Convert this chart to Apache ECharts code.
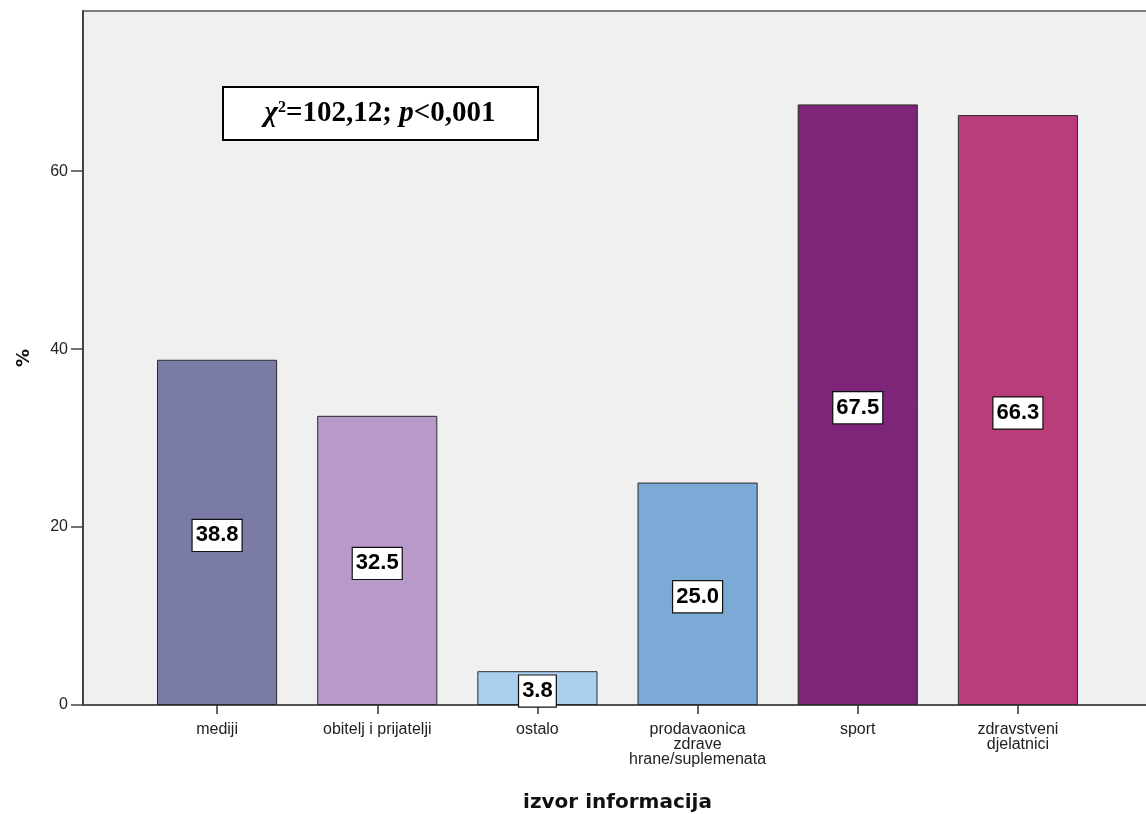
<!DOCTYPE html>
<html>
<head>
<meta charset="utf-8">
<script src="https://cdn.jsdelivr.net/npm/echarts@6/dist/echarts.min.js"></script>
<style>
html,body{margin:0;padding:0;background:#fff;}
#chart{width:1146px;height:814px;}
</style>
</head>
<body>
<div id="chart"></div>
<script>
const categories = ['mediji', 'obitelj i prijatelji', 'ostalo', 'prodavaonica\nzdrave\nhrane/suplemenata', 'sport', 'zdravstveni\ndjelatnici'];
const values = [38.8, 32.5, 3.8, 25.0, 67.5, 66.3];
const colors = ['#7b7ba8', '#b89aca', '#abd0ef', '#7baad7', '#7c2579', '#ba3d7b'];
const yTicks = [0, 20, 40, 60];

const chart = echarts.init(document.getElementById('chart'), null, {renderer: 'canvas'});
const option = {
  animation: false,
  backgroundColor: '#ffffff',
  grid: [
    {left: 83, top: 11, right: -6, bottom: 109, outerBoundsMode: 'none', containLabel: false, show: true, backgroundColor: '#f0f0f0', borderColor: '#555', borderWidth: 1.5},
    {left: 137, top: 11, right: 48, bottom: 109, outerBoundsMode: 'none', containLabel: false}
  ],
  xAxis: [
    {gridIndex: 0, type: 'value', min: 0, max: 1,
      axisLine: {show: true, lineStyle: {color: '#444', width: 1.5}},
      axisTick: {show: false}, axisLabel: {show: false}, splitLine: {show: false}},
    {gridIndex: 1, type: 'category', data: categories,
      axisLine: {show: false},
      axisTick: {show: true, alignWithLabel: true, length: 9, lineStyle: {color: '#333', width: 1.5}},
      axisLabel: {fontFamily: 'Liberation Sans', fontSize: 16, color: '#222', lineHeight: 15, margin: 17, interval: 0},
      name: 'izvor informacija', nameLocation: 'middle', nameGap: 88,
      nameTextStyle: {fontFamily: 'DejaVu Sans', fontSize: 20, fontWeight: 'bold', color: '#111'}}
  ],
  yAxis: [
    {gridIndex: 0, type: 'value', min: 0, max: 78, interval: 20,
      axisLine: {show: true, lineStyle: {color: '#444', width: 2}},
      axisTick: {show: true, length: 12, customValues: yTicks, lineStyle: {color: '#444', width: 1.5}},
      axisLabel: {fontFamily: 'Liberation Sans', fontSize: 16, color: '#222', margin: 15, customValues: yTicks},
      splitLine: {show: false},
      name: '%', nameLocation: 'middle', nameRotate: 90, nameGap: 50,
      nameTextStyle: {fontFamily: 'DejaVu Sans', fontSize: 18, fontWeight: 'bold', color: '#111'}},
    {gridIndex: 1, type: 'value', min: 0, max: 78, show: false, splitLine: {show: false}}
  ],
  series: [{
    type: 'bar',
    xAxisIndex: 1,
    yAxisIndex: 1,
    barWidth: '75%',
    data: values.map((v, i) => ({value: v, itemStyle: {color: colors[i]}})),
    itemStyle: {borderColor: '#2a2a2a', borderWidth: 1},
    label: {
      show: true,
      position: 'inside',
      offset: [0, 3],
      formatter: p => p.value.toFixed(1),
      fontFamily: 'Liberation Sans',
      fontSize: 22,
      fontWeight: 'bold',
      color: '#000',
      backgroundColor: '#fff',
      borderColor: '#111',
      borderWidth: 1.2,
      padding: [6, 3, 3, 3]
    }
  }],
  graphic: [{
    type: 'group',
    left: 222,
    top: 86,
    children: [
      {type: 'rect', shape: {x: 0, y: 0, width: 315, height: 53}, style: {fill: '#fff', stroke: '#000', lineWidth: 2}},
      {type: 'text', x: 157, y: 27,
        style: {
          text: '{chi|χ}{sup|2}{n|=102,12; }{p|p}{n|<0,001}',
          align: 'center', verticalAlign: 'middle',
          rich: {
            chi: {fontFamily: 'Liberation Serif', fontSize: 29, fontStyle: 'italic', fontWeight: 'bold', fill: '#000'},
            sup: {fontFamily: 'Liberation Serif', fontSize: 16, fontWeight: 'bold', fill: '#000', verticalAlign: 'top', padding: [0, 0, 12, 0]},
            n: {fontFamily: 'Liberation Serif', fontSize: 29, fontWeight: 'bold', fill: '#000'},
            p: {fontFamily: 'Liberation Serif', fontSize: 29, fontStyle: 'italic', fontWeight: 'bold', fill: '#000'}
          }
        }}
    ]
  }]
};
chart.setOption(option);
</script>
</body>
</html>
